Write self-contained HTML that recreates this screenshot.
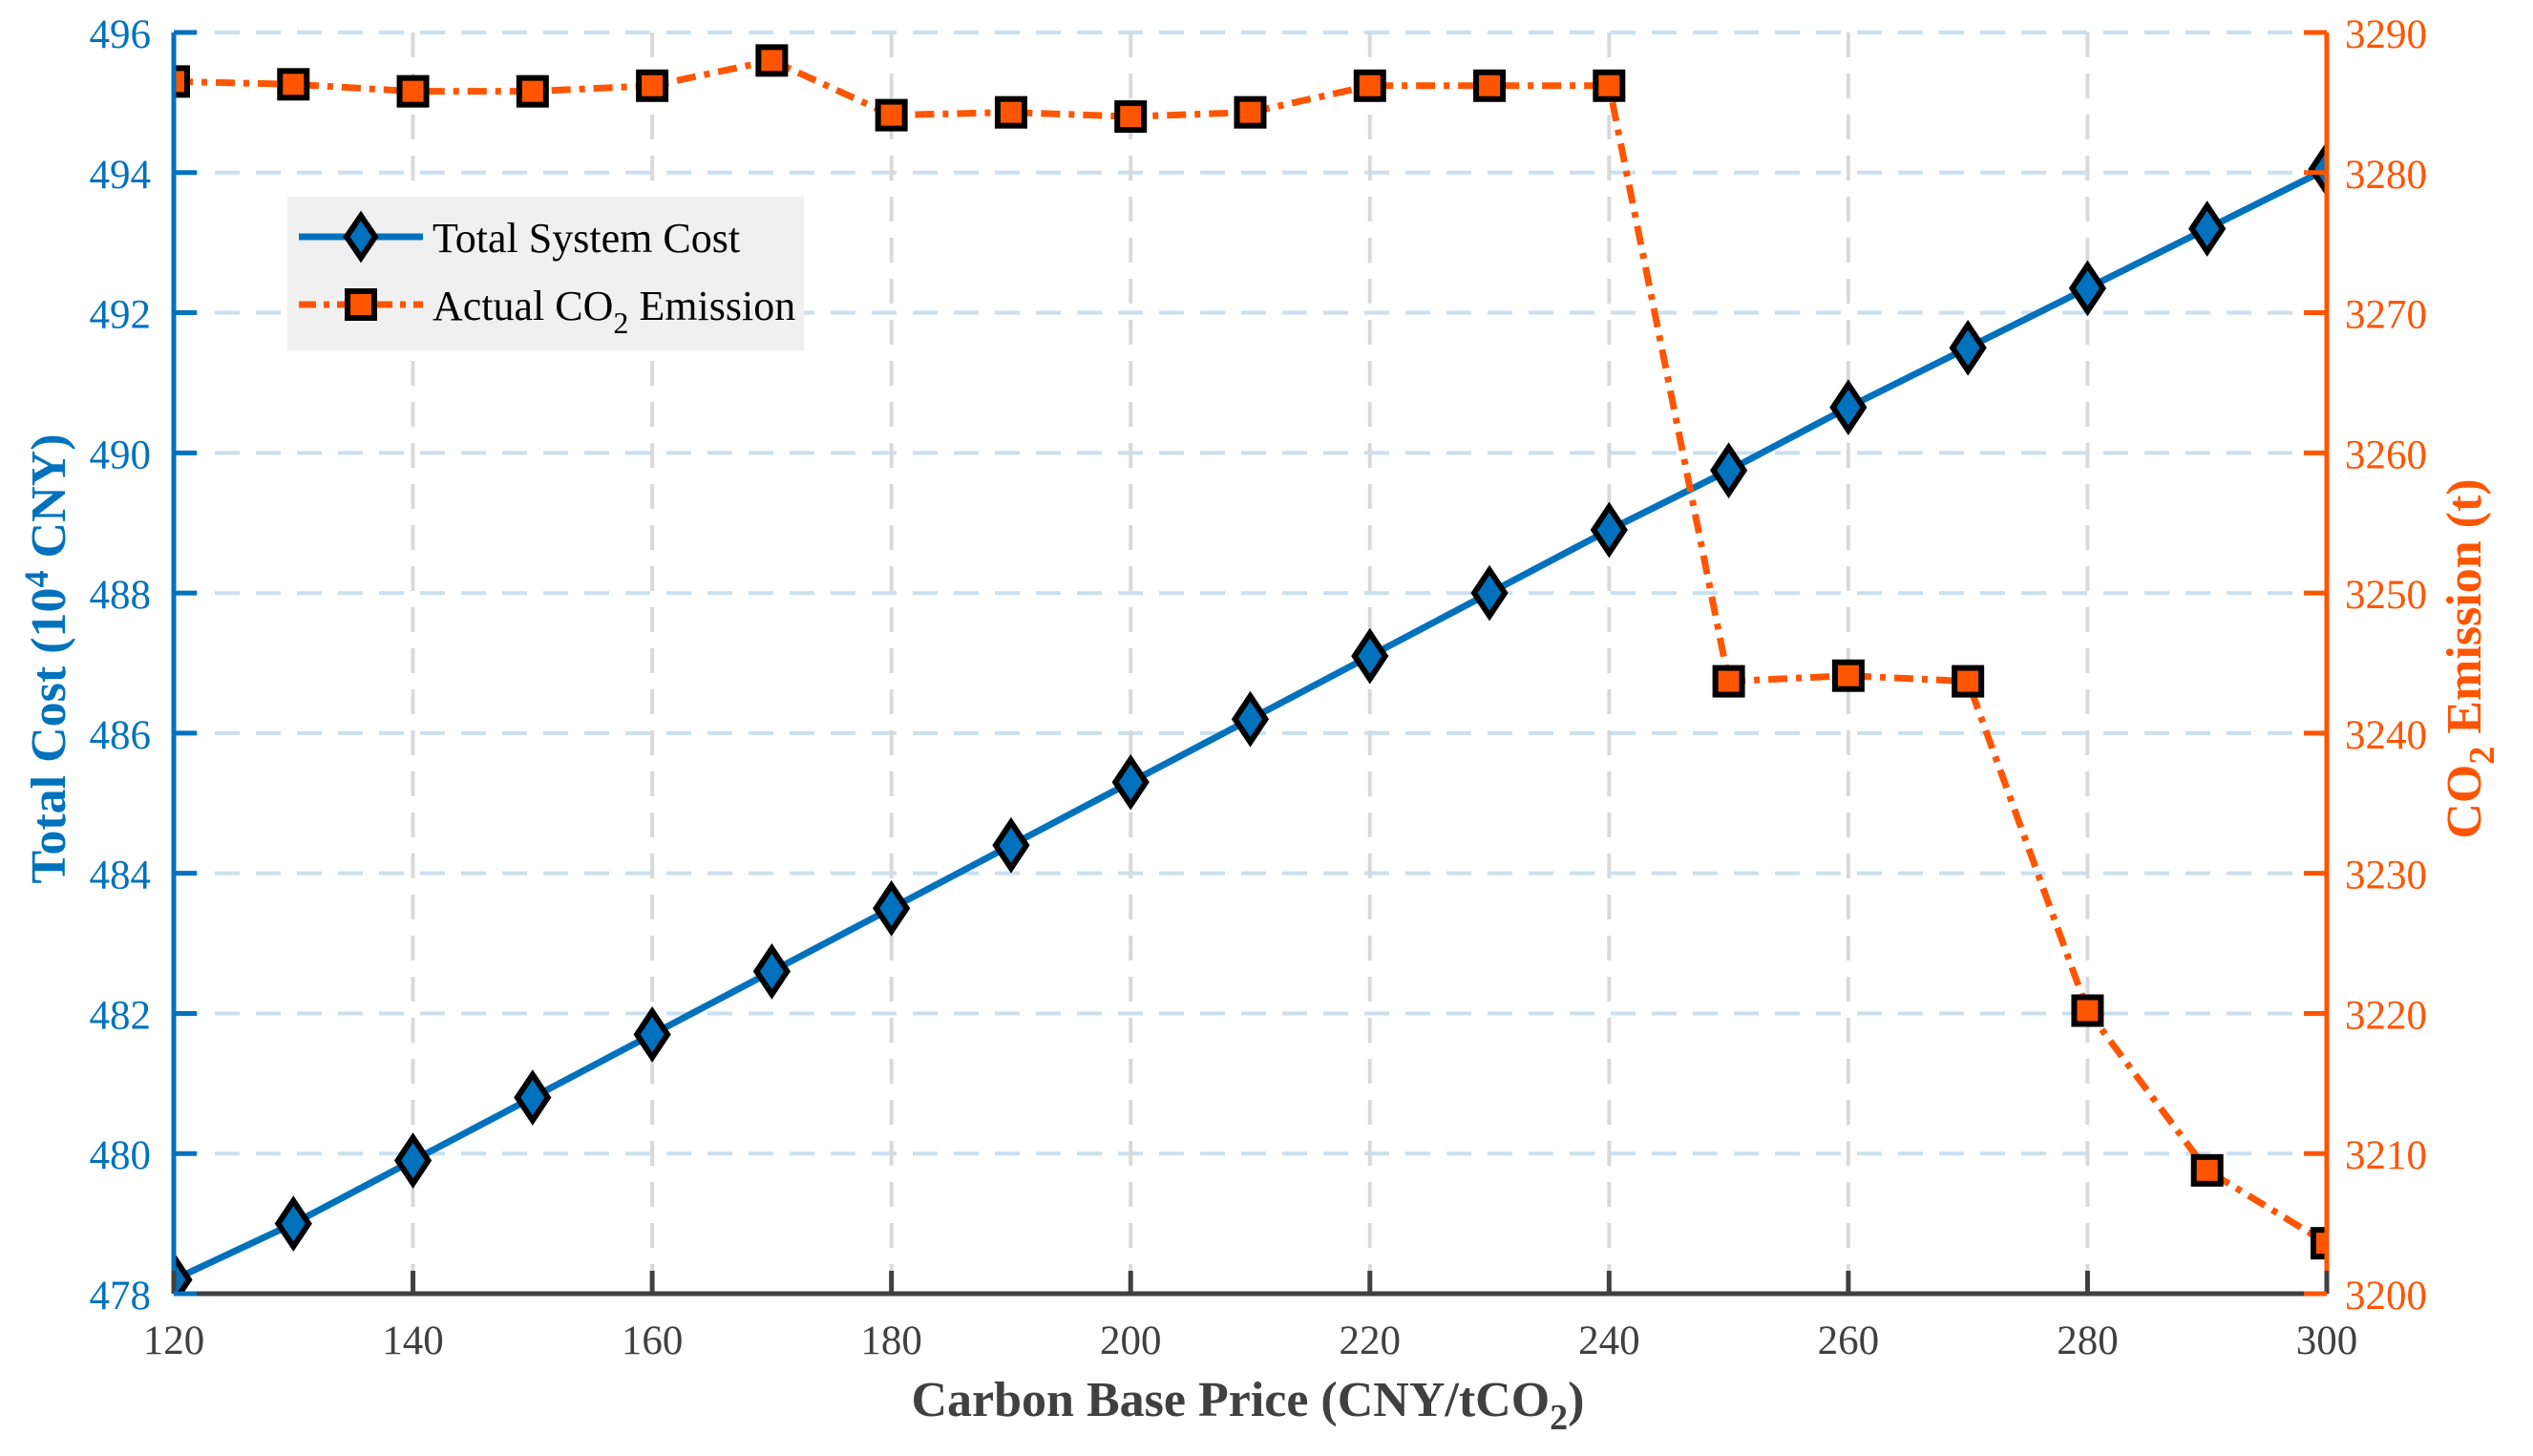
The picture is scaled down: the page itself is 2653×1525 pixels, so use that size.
<!DOCTYPE html>
<html><head><meta charset="utf-8"><style>
body{margin:0;background:#fff}
svg{display:block}
text{font-family:"Liberation Serif",serif}
</style></head><body>
<svg id="chart" width="2653" height="1525" viewBox="0 0 2653 1525" xmlns="http://www.w3.org/2000/svg">
<defs><clipPath id="plotclip"><rect x="182" y="34" width="2255" height="1321"/></clipPath></defs>
<g id="grid"></g>
<g id="series" clip-path="url(#plotclip)"></g>
<g id="axes"></g>
<g id="legend">
<rect x="301" y="206" width="541" height="161" fill="#f0f0f0"/>
<g>
<line x1="313" y1="248" x2="443" y2="248" stroke="#0072BD" stroke-width="7"/>
<polygon points="378,226 393,248 378,270 363,248" fill="#0072BD" stroke="#000" stroke-width="6"/>
<text x="453" y="264" font-size="44" fill="#000">Total System Cost</text>
</g>
<g>
<line x1="313" y1="319" x2="443" y2="319" stroke="#FF5500" stroke-width="7" stroke-dasharray="18,8,6,8"/>
<rect x="364" y="305" width="28" height="28" fill="#FF5500" stroke="#000" stroke-width="6"/>
<text x="453" y="335" font-size="44" fill="#000">Actual CO<tspan font-size="32" dy="14">2</tspan><tspan dy="-14"> Emission</tspan></text>
</g>
</g>
<text x="1307" y="1483" font-size="52" font-weight="bold" fill="#404040" text-anchor="middle">Carbon Base Price (CNY/tCO<tspan font-size="38" dy="14">2</tspan><tspan dy="-14">)</tspan></text>
<text transform="translate(68,690) rotate(-90)" font-size="52" font-weight="bold" fill="#0072BD" text-anchor="middle">Total Cost (10<tspan font-size="36" dy="-18">4</tspan><tspan dy="18"> CNY)</tspan></text>
<text transform="translate(2598,690) rotate(-90)" font-size="52" font-weight="bold" fill="#FF5500" text-anchor="middle">CO<tspan font-size="38" dy="14">2</tspan><tspan dy="-14"> Emission (t)</tspan></text>
</svg>
<script>
const prices=[120,130,140,150,160,170,180,190,200,210,220,230,240,250,260,270,280,290,300];
const costValues=[478.2,479.0,479.9,480.8,481.7,482.6,483.5,484.4,485.3,486.2,487.1,488.0,488.9,489.75,490.65,491.5,492.35,493.2,494.05];
const co2Values=[3286.5,3286.3,3285.8,3285.8,3286.2,3288.0,3284.1,3284.3,3284.0,3284.3,3286.2,3286.2,3286.2,3243.7,3244.1,3243.7,3220.2,3208.8,3203.6];
const xTicks=[120,140,160,180,200,220,240,260,280,300];
const yLeftTicks=[478,480,482,484,486,488,490,492,494,496];
const yRightTicks=[3200,3210,3220,3230,3240,3250,3260,3270,3280,3290];

const L=182,R=2437,T=34,B=1355;
const xs=v=>L+(v-120)/(300-120)*(R-L);
const yl=v=>B-(v-478)/(496-478)*(B-T);
const yr=v=>B-(v-3200)/(3290-3200)*(B-T);
const NS="http://www.w3.org/2000/svg";
function mk(parent,tag,attrs){const e=document.createElementNS(NS,tag);for(const k in attrs)e.setAttribute(k,attrs[k]);parent.appendChild(e);return e;}
const grid=document.getElementById('grid'),axes=document.getElementById('axes'),series=document.getElementById('series');

yLeftTicks.forEach(v=>{const g=mk(grid,'line',{x1:L,x2:R,y1:yl(v),y2:yl(v),stroke:'#c9e0f0','stroke-width':4,'stroke-dasharray':'26,17'});

});
xTicks.forEach(v=>{const g=mk(grid,'line',{x1:xs(v),x2:xs(v),y1:T,y2:B,stroke:'#d9d9d9','stroke-width':4,'stroke-dasharray':'26,17'});

});

const cl=mk(series,'polyline',{points:prices.map((p,i)=>xs(p)+','+yl(costValues[i])).join(' '),fill:'none',stroke:'#0072BD','stroke-width':7});


const ol=mk(series,'polyline',{points:prices.map((p,i)=>xs(p)+','+yr(co2Values[i])).join(' '),fill:'none',stroke:'#FF5500','stroke-width':7,'stroke-dasharray':'20,9,6,9'});


prices.forEach((p,i)=>{const x=xs(p),y=yl(costValues[i]);
const d=mk(series,'polygon',{points:`${x},${y-24} ${x+16},${y} ${x},${y+24} ${x-16},${y}`,fill:'#0072BD',stroke:'#000','stroke-width':6});

});
prices.forEach((p,i)=>{const x=xs(p),y=yr(co2Values[i]);
const s=mk(series,'rect',{x:x-14,y:y-14,width:28,height:28,fill:'#FF5500',stroke:'#000','stroke-width':6});

});

const xa=mk(axes,'line',{x1:L,x2:R,y1:B,y2:B,stroke:'#404040','stroke-width':5});


const la=mk(axes,'line',{x1:L,x2:L,y1:T,y2:B,stroke:'#0072BD','stroke-width':5});


const ra=mk(axes,'line',{x1:R,x2:R,y1:T,y2:B,stroke:'#FF5500','stroke-width':5});


xTicks.forEach(v=>{mk(axes,'line',{x1:xs(v),x2:xs(v),y1:B,y2:B-24,stroke:'#404040','stroke-width':5});
const t=mk(axes,'text',{x:xs(v),y:B+63,'font-size':43,fill:'#404040','text-anchor':'middle'});t.textContent=v;

});
yLeftTicks.forEach(v=>{mk(axes,'line',{x1:L,x2:L+24,y1:yl(v),y2:yl(v),stroke:'#0072BD','stroke-width':5});
const t=mk(axes,'text',{x:L-24,y:yl(v)+16,'font-size':43,fill:'#0072BD','text-anchor':'end'});t.textContent=v;

});
yRightTicks.forEach(v=>{mk(axes,'line',{x1:R,x2:R-24,y1:yr(v),y2:yr(v),stroke:'#FF5500','stroke-width':5});
const t=mk(axes,'text',{x:R+19,y:yr(v)+16,'font-size':43,fill:'#FF5500','text-anchor':'start'});t.textContent=v;

});
</script>
</body></html>
